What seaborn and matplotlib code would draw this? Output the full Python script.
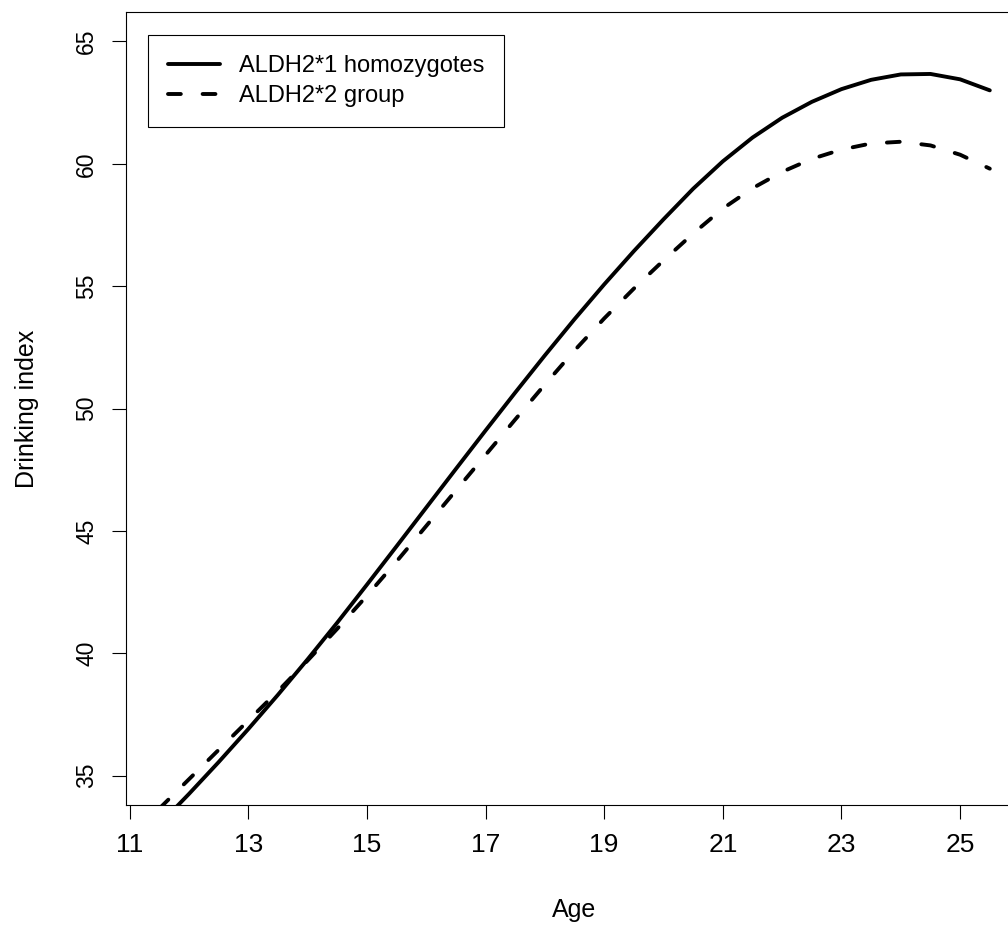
import numpy as np
import pandas as pd
import matplotlib.pyplot as plt
import seaborn as sns

# values (age vs drinking index)
ages = [11.5, 12.0, 12.5, 13.0, 13.5, 14.0, 14.5, 15.0, 15.5, 16.0,
        16.5, 17.0, 17.5, 18.0, 18.5, 19.0, 19.5, 20.0, 20.5, 21.0,
        21.5, 22.0, 22.5, 23.0, 23.5, 24.0, 24.5, 25.0, 25.5]
aldh2_1 = [33.0, 34.25, 35.55, 36.9, 38.3, 39.75, 41.25, 42.8, 44.37, 45.95,
           47.53, 49.1, 50.65, 52.17, 53.65, 55.07, 56.43, 57.73, 58.98, 60.1,
           61.07, 61.88, 62.53, 63.05, 63.43, 63.65, 63.67, 63.45, 63.0]
aldh2_2 = [33.65, 34.85, 36.05, 37.25, 38.45, 39.7, 41.0, 42.35, 43.75, 45.2,
           46.65, 48.1, 49.55, 50.98, 52.37, 53.68, 54.9, 56.05, 57.15, 58.17,
           59.0, 59.67, 60.2, 60.58, 60.83, 60.9, 60.75, 60.37, 59.8]
groups = ["ALDH2*1 homozygotes", "ALDH2*2 group"]
x_ticks = [11, 13, 15, 17, 19, 21, 23, 25]
y_ticks = [35, 40, 45, 50, 55, 60, 65]

df = pd.DataFrame({
    "age": ages + ages,
    "index": aldh2_1 + aldh2_2,
    "group": [groups[0]] * len(ages) + [groups[1]] * len(ages),
})

sns.set_style("ticks")
plt.rcParams["font.family"] = ["Liberation Sans", "DejaVu Sans"]
plt.rcParams["text.color"] = "black"
plt.rcParams["axes.labelcolor"] = "black"
plt.rcParams["xtick.color"] = "black"
plt.rcParams["ytick.color"] = "black"
plt.rcParams["lines.solid_capstyle"] = "round"
plt.rcParams["lines.dash_capstyle"] = "round"
plt.rcParams["lines.solid_joinstyle"] = "round"
plt.rcParams["lines.dash_joinstyle"] = "round"

fig = plt.figure(figsize=(10.08, 9.25), dpi=100)
# plot box runs past the right edge of the image, like the reference
ax = fig.add_axes([0.125, 0.1297, 0.8899, 0.8573])

sns.lineplot(data=df, x="age", y="index", hue="group", style="group",
             palette=["black", "black"],
             dashes={groups[0]: "", groups[1]: (3.3, 5.6)},
             linewidth=2.8, errorbar=None, legend=False, ax=ax)

ax.set_xlim(10.94, 26.06)
ax.set_ylim(33.8, 66.2)
ax.set_xticks(x_ticks)
ax.set_yticks(y_ticks)

for s in ax.spines.values():
    s.set_visible(True)
    s.set_color("black")
    s.set_linewidth(0.8)

ax.tick_params(axis="both", direction="out", length=10, width=0.8,
               color="black", labelcolor="black")
ax.tick_params(axis="x", labelsize=19, pad=10)
ax.tick_params(axis="y", labelsize=16.5, pad=10, labelrotation=90)
for lab in ax.get_yticklabels():
    lab.set_va("center")

ax.set_xlabel("Age", fontsize=18, va="top")
ax.set_ylabel("Drinking index", fontsize=18)
ax.xaxis.set_label_coords(0.5, -0.117)
ax.yaxis.set_label_coords(-0.097, 0.5)

leg = ax.legend(ax.lines[:2], groups, loc="upper left",
                bbox_to_anchor=(0.0245, 0.971), borderaxespad=0,
                fontsize=17, frameon=True, fancybox=False,
                edgecolor="black", framealpha=1, handlelength=2.2,
                handletextpad=0.8, borderpad=0.85, labelspacing=0.35)
leg.get_frame().set_linewidth(0.8)

fig.savefig("out.png", dpi=100)
